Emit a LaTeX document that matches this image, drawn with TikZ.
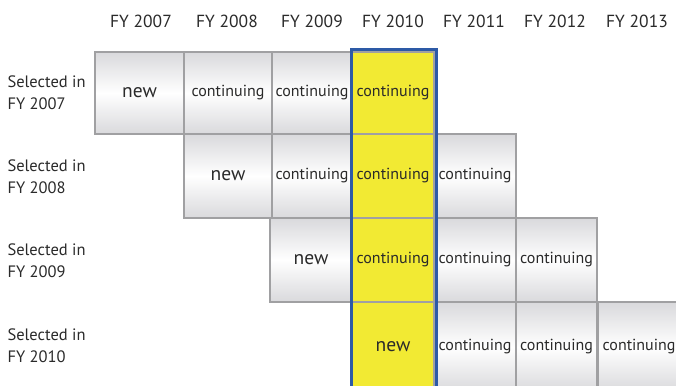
\documentclass[tikz,border=0pt]{standalone}
\usepackage{fontspec}
\setmainfont{PT Sans}
\definecolor{cellgray}{HTML}{A0A0A2}
\definecolor{shadegray}{HTML}{D9D9DC}
\definecolor{hiyellow}{HTML}{F2EA33}
\definecolor{hiblue}{HTML}{2D5AA6}
\definecolor{txt}{HTML}{2A2A2A}
\begin{document}
\begin{tikzpicture}[x=1pt,y=1pt,
  cell/.style={draw=cellgray, line width=1.5pt, rectangle, inner sep=0pt,
    top color=shadegray, bottom color=shadegray, middle color=white,
    text=txt, font=\fontsize{16}{18}\selectfont},
  ycell/.style={draw=cellgray, line width=1.5pt, rectangle, inner sep=0pt,
    fill=hiyellow, text=txt, font=\fontsize{16}{18}\selectfont},
  hdr/.style={text=txt, font=\fontsize{17.5}{20}\selectfont},
  rowlab/.style={text=txt, font=\fontsize{16.5}{22}\selectfont, align=left, anchor=west}]
\newcommand{\nw}{\fontsize{19.5}{22}\selectfont new}
\useasboundingbox (0,0) rectangle (676,385);
\clip (0,0) rectangle (676,385);
% headers
\node[hdr] (h07) at (141,364) {FY 2007};
\node[hdr] (h08) at (227,364) {FY 2008};
\node[hdr] (h09) at (312,364) {FY 2009};
\node[hdr] (h10) at (393,364) {FY 2010};
\node[hdr] (h11) at (474,364) {FY 2011};
\node[hdr] (h12) at (555,364) {FY 2012};
\node[hdr] (h13) at (637,364) {FY 2013};
% row labels
\node[rowlab] (r07) at (4,292) {Selected in\\FY 2007};
\node[rowlab] (r08) at (4,208) {Selected in\\FY 2008};
\node[rowlab] (r09) at (4,124) {Selected in\\FY 2009};
\node[rowlab] (r10) at (4,39) {Selected in\\FY 2010};
% row 1
\node[cell, minimum width=89, minimum height=82] (c11) at (139.5,292) {\nw};
\node[cell, minimum width=88, minimum height=82] (c12) at (228,292) {continuing};
\node[cell, minimum width=80, minimum height=82] (c13) at (312,292) {continuing};
\node[ycell, minimum width=82, minimum height=82] (c14) at (393,292) {continuing};
% row 2
\node[cell, minimum width=88, minimum height=84] (c22) at (228,209) {\nw};
\node[cell, minimum width=80, minimum height=84] (c23) at (312,209) {continuing};
\node[ycell, minimum width=82, minimum height=84] (c24) at (393,209) {continuing};
\node[cell, minimum width=82, minimum height=84] (c25) at (475,209) {continuing};
% row 3
\node[cell, minimum width=82, minimum height=84] (c33) at (311,125) {\nw};
\node[ycell, minimum width=82, minimum height=84] (c34) at (393,125) {continuing};
\node[cell, minimum width=82, minimum height=84] (c35) at (475,125) {continuing};
\node[cell, minimum width=81, minimum height=84] (c36) at (556.5,125) {continuing};
% row 4
\node[ycell, minimum width=82, minimum height=90] (c44) at (393,38) {\nw};
\node[cell, minimum width=81, minimum height=90] (c45) at (475,38) {continuing};
\node[cell, minimum width=81, minimum height=90] (c46) at (556.5,38) {continuing};
\node[cell, minimum width=82, minimum height=90] (c47) at (639,38) {continuing};
% highlight frame
\draw[hiblue, line width=3pt] (c14.north west) ++(0,1.5) rectangle ([xshift=2pt,yshift=-20pt]c44.south east);
\end{tikzpicture}
\end{document}
